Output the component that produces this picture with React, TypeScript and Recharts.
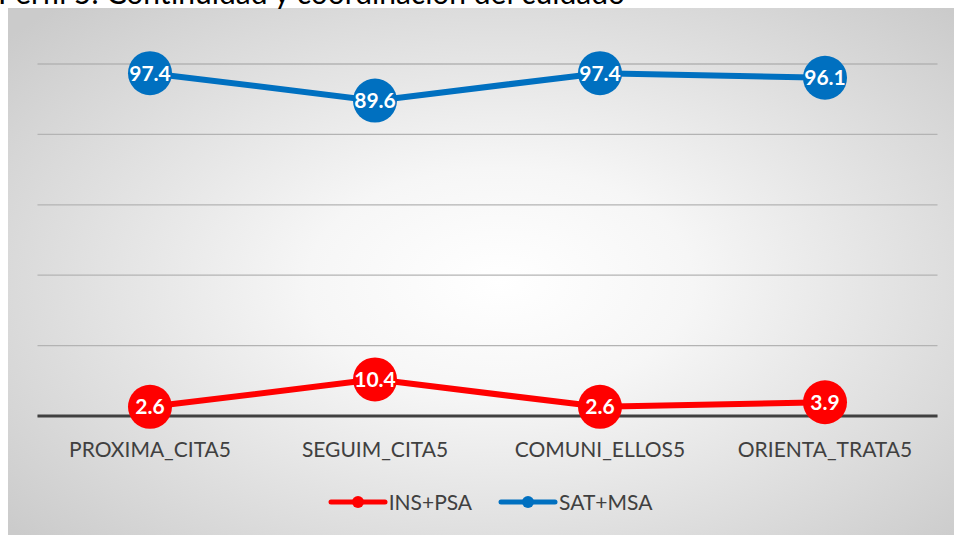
import React from "react";
import { LineChart, Line, XAxis, YAxis, CartesianGrid, Legend, LabelList } from "recharts";

const categories = ["PROXIMA_CITA5", "SEGUIM_CITA5", "COMUNI_ELLOS5", "ORIENTA_TRATA5"];
const insPsa = [2.6, 10.4, 2.6, 3.9];
const satMsa = [97.4, 89.6, 97.4, 96.1];
const yTicks = [0, 20, 40, 60, 80, 100];

const data = categories.map((name, i) => ({ name, ins: insPsa[i], sat: satMsa[i] }));

const FONT = "Lato, 'Open Sans', sans-serif";

function renderLegend(props: any) {
  const { payload } = props;
  return (
    <div style={{ display: "flex", justifyContent: "center", alignItems: "center", fontFamily: FONT }}>
      {payload.map((p: any, i: number) => (
        <div
          key={p.value}
          style={{ display: "flex", alignItems: "center", marginRight: i < payload.length - 1 ? 26 : 0 }}
        >
          <svg width={60} height={14}>
            <line x1={3} y1={7} x2={57} y2={7} stroke={p.color} strokeWidth={5} strokeLinecap="round" />
            <circle cx={30} cy={7} r={6} fill={p.color} />
          </svg>
          <span style={{ fontSize: 21, color: "#404040", marginLeft: 1 }}>{p.value}</span>
        </div>
      ))}
    </div>
  );
}

export default function App() {
  return (
    <div style={{ position: "absolute", left: 0, top: 0, width: 954, height: 535, background: "#fff", overflow: "hidden" }}>
      <div
        style={{
          position: "absolute",
          left: 8,
          top: 8,
          width: 946,
          height: 527,
          background: "radial-gradient(ellipse 68% 72% at 52% 52%, #ffffff 0%, #f6f6f6 30%, #cbcbcb 100%)",
        }}
      />
      <div
        style={{
          position: "absolute",
          left: -2,
          top: -26,
          fontFamily: FONT,
          fontSize: 30,
          color: "#000",
          whiteSpace: "nowrap",
        }}
      >
        Perfil 5: Continuidad y coordinación del cuidado
      </div>
      <div style={{ position: "absolute", left: 0, top: 0 }}>
        <LineChart width={954} height={535} data={data} margin={{ top: 64, right: 16.5, left: 37.5, bottom: 89 }}>
          <CartesianGrid horizontal vertical={false} stroke="#b3b3b3" strokeWidth={1.3} />
          <YAxis hide domain={[0, 100]} ticks={yTicks} />
          <XAxis
            dataKey="name"
            height={30}
            padding={{ left: 112.5, right: 112.5 }}
            axisLine={{ stroke: "#404040", strokeWidth: 3 }}
            tickLine={false}
            tickMargin={20}
            tick={{ fill: "#404040", fontSize: 21, fontFamily: FONT }}
          />
          <Legend
            layout="horizontal"
            verticalAlign="middle"
            align="center"
            content={renderLegend}
            wrapperStyle={{ top: 489, left: 13, width: 954 }}
          />
          <Line
            type="linear"
            dataKey="ins"
            name="INS+PSA"
            stroke="#ff0000"
            strokeWidth={6}
            dot={{ r: 22, fill: "#ff0000", stroke: "none" }}
            isAnimationActive={false}
          >
            <LabelList
              dataKey="ins"
              position="center"
              fill="#ffffff"
              style={{ fontFamily: FONT, fontWeight: 700, fontSize: 21 }}
            />
          </Line>
          <Line
            type="linear"
            dataKey="sat"
            name="SAT+MSA"
            stroke="#0070c0"
            strokeWidth={6}
            dot={{ r: 22, fill: "#0070c0", stroke: "none" }}
            isAnimationActive={false}
          >
            <LabelList
              dataKey="sat"
              position="center"
              fill="#ffffff"
              style={{ fontFamily: FONT, fontWeight: 700, fontSize: 21 }}
            />
          </Line>
        </LineChart>
      </div>
    </div>
  );
}
